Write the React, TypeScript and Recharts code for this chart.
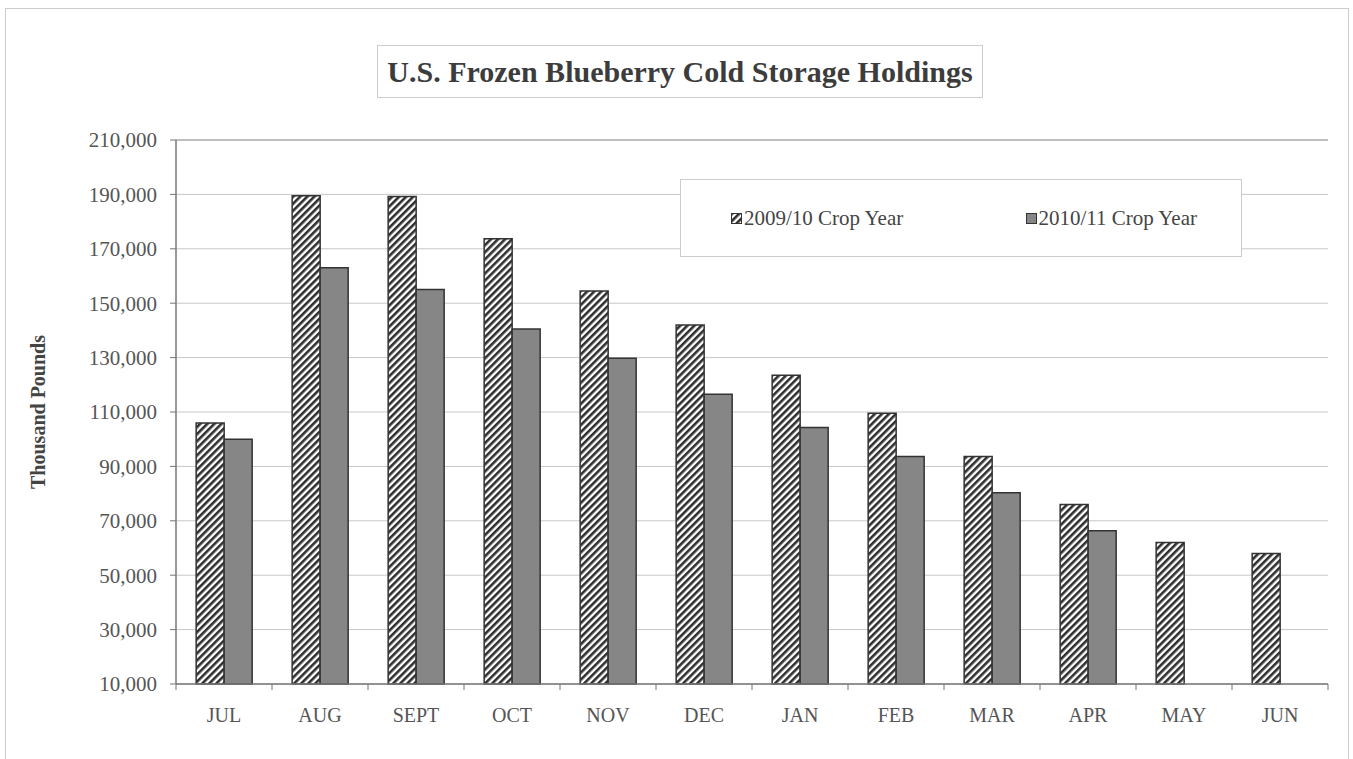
import React from "react";
import { BarChart, Bar, XAxis, YAxis, CartesianGrid, ReferenceLine } from "recharts";

const MONTHS = ["JUL", "AUG", "SEPT", "OCT", "NOV", "DEC", "JAN", "FEB", "MAR", "APR", "MAY", "JUN"];
const CROP_0910 = [106000, 189500, 189200, 173700, 154500, 142000, 123500, 109500, 93600, 76000, 62000, 58000];
const CROP_1011 = [100000, 163000, 155000, 140500, 129800, 116500, 104300, 93600, 80300, 66300, null, null];
const Y_TICKS = [10000, 30000, 50000, 70000, 90000, 110000, 130000, 150000, 170000, 190000, 210000];

const data = MONTHS.map((m, i) => ({ month: m, a: CROP_0910[i], b: CROP_1011[i] }));

const W = 1353;
const H = 759;
const M = { top: 140, right: 25, bottom: 0, left: 0 };
const X_H = 75;
const Y_W = 176;
const HALF_BAND = (W - M.right - Y_W) / MONTHS.length / 2;
const FONT = '"Liberation Serif", "Times New Roman", serif';

function XTick(props: any) {
  const { x, y, payload, index } = props;
  return (
    <g>
      <line x1={x - HALF_BAND} y1={y} x2={x - HALF_BAND} y2={y + 6} stroke="#777" />
      {index === MONTHS.length - 1 && (
        <line x1={x + HALF_BAND} y1={y} x2={x + HALF_BAND} y2={y + 6} stroke="#777" />
      )}
      <text x={x} y={y + 38} textAnchor="middle" fontSize={20} fill="#555" fontFamily={FONT}>
        {payload.value}
      </text>
    </g>
  );
}

function LegendBox() {
  const item = (swatch: React.ReactNode, label: string) => (
    <div style={{ display: "flex", alignItems: "center" }}>
      {swatch}
      <span style={{ marginLeft: 2 }}>{label}</span>
    </div>
  );
  return (
    <div
      style={{
        position: "absolute",
        left: 680,
        top: 179,
        width: 562,
        height: 78,
        border: "1px solid #ccc",
        background: "#fff",
        display: "flex",
        alignItems: "center",
        justifyContent: "space-between",
        boxSizing: "border-box",
        padding: "0 44px 0 50px",
        fontFamily: FONT,
        fontSize: 21,
        color: "#444",
        zIndex: 2,
      }}
    >
      {item(
        <svg width={11} height={11}>
          <rect x={0.5} y={0.5} width={10} height={10} fill="url(#hatch)" stroke="#333" />
        </svg>,
        "2009/10 Crop Year"
      )}
      {item(
        <svg width={11} height={11}>
          <rect x={0.5} y={0.5} width={10} height={10} fill="#868686" stroke="#333" />
        </svg>,
        "2010/11 Crop Year"
      )}
    </div>
  );
}

export default function App() {
  return (
    <div style={{ position: "absolute", left: 0, top: 0, width: W, height: H, background: "#fff" }}>
      <div
        style={{
          position: "absolute",
          left: 5,
          top: 8,
          width: 1342,
          height: H,
          borderLeft: "1px solid #ccc",
          borderTop: "1px solid #ccc",
          borderRight: "1px solid #ccc",
        }}
      />
      <div
        style={{
          position: "absolute",
          left: 377,
          top: 45,
          width: 606,
          height: 53,
          border: "1px solid #ccc",
          boxSizing: "border-box",
          display: "flex",
          alignItems: "center",
          justifyContent: "center",
          fontFamily: FONT,
          fontWeight: "bold",
          fontSize: 30,
          color: "#3c3c3c",
          zIndex: 2,
        }}
      >
        U.S. Frozen Blueberry Cold Storage Holdings
      </div>
      <div style={{ position: "absolute", left: 0, top: 0 }}>
        <BarChart width={W} height={H} data={data} margin={M} barCategoryGap="21%" barGap={0}>
          <defs>
            <pattern id="hatch" width={5} height={5} patternUnits="userSpaceOnUse" patternTransform="rotate(45)">
              <rect x={0} y={0} width={5} height={5} fill="#fff" />
              <rect x={0} y={0} width={2.6} height={5} fill="#2e2e2e" />
            </pattern>
          </defs>
          <CartesianGrid horizontal vertical={false} stroke="#c8c8c8" yAxisId="left" />
          <XAxis
            dataKey="month"
            height={X_H}
            tickLine={false}
            tickSize={0}
            tickMargin={0}
            axisLine={{ stroke: "#777", strokeWidth: 1.5 }}
            tick={<XTick />}
            interval={0}
          />
          <YAxis
            yAxisId="left"
            width={Y_W}
            domain={[10000, 210000]}
            ticks={Y_TICKS}
            interval={0}
            tickSize={6}
            tickMargin={13}
            tickLine={{ stroke: "#777" }}
            axisLine={{ stroke: "#777", strokeWidth: 1.5 }}
            tickFormatter={(v: number) => v.toLocaleString("en-US")}
            tick={{ fontSize: 21, fill: "#555", fontFamily: FONT }}
            label={{
              content: (p: any) => {
                const vb = p.viewBox;
                const cx = 38;
                const cy = vb.y + vb.height / 2;
                return (
                  <text
                    x={cx}
                    y={cy}
                    transform={`rotate(-90 ${cx} ${cy})`}
                    textAnchor="middle"
                    dominantBaseline="central"
                    fontSize={20}
                    fontWeight="bold"
                    fill="#444"
                    fontFamily={FONT}
                  >
                    Thousand Pounds
                  </text>
                );
              },
            }}
          />
          <YAxis
            yAxisId="right"
            orientation="right"
            width={0}
            domain={[10000, 210000]}
            tick={false}
            tickLine={false}
            axisLine={{ stroke: "#999" }}
          />
          <ReferenceLine yAxisId="left" y={210000} stroke="#999" />
          <Bar
            yAxisId="left"
            dataKey="a"
            name="2009/10 Crop Year"
            fill="url(#hatch)"
            stroke="#333"
            strokeWidth={1.5}
            isAnimationActive={false}
          />
          <Bar
            yAxisId="left"
            dataKey="b"
            name="2010/11 Crop Year"
            fill="#868686"
            stroke="#333"
            strokeWidth={1.5}
            isAnimationActive={false}
          />
        </BarChart>
      </div>
      <LegendBox />
    </div>
  );
}
